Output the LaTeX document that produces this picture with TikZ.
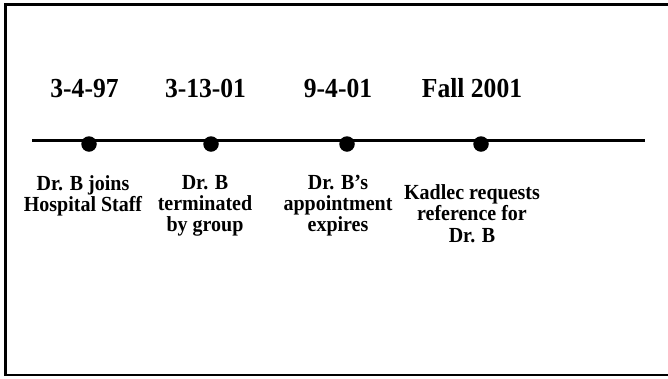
\documentclass[tikz,border=0pt]{standalone}
\usepackage{fontspec}
\setmainfont{Liberation Serif}
\newfontfamily\narrowserif[FakeStretch=0.93]{Liberation Serif}
\begin{document}
\begin{tikzpicture}[x=1pt,y=-1pt,
  frame/.style={line width=2.6pt},
  axis/.style={line width=3pt},
  dot/.style={circle,fill=black,inner sep=0pt,minimum size=15.5pt},
  date/.style={font=\narrowserif\bfseries\fontsize{27.5}{29}\selectfont,anchor=base,inner sep=0pt},
  event/.style={font=\narrowserif\bfseries\fontsize{21.5}{21.2}\selectfont,align=center,anchor=north,inner sep=0pt}]
  \useasboundingbox (0,0) rectangle (668,378);
  % outer frame (open on the right edge)
  \draw[frame] (672,4.5) -- (5.3,4.5) -- (5.3,375) -- (672,375);
  % time axis
  \coordinate (start) at (32,140);
  \coordinate (end) at (645,140);
  \draw[axis] (start) -- (end);
  % event markers
  \node[dot] (d1) at (89,144) {};
  \node[dot] (d2) at (211,144) {};
  \node[dot] (d3) at (347,144) {};
  \node[dot] (d4) at (481,144) {};
  % dates
  \node[date] (t1) at (84.5,97) {3-4-97};
  \node[date] (t2) at (205.5,97) {3-13-01};
  \node[date] (t3) at (338,97) {9-4-01};
  \node[date] (t4) at (472,97) {Fall 2001};
  % event descriptions
  \node[event] (e1) at (83,175) {Dr. B joins\\Hospital Staff};
  \node[event] (e2) at (205,175) {Dr. B\\terminated\\by group};
  \node[event] (e3) at (338,175) {Dr. B’s\\appointment\\expires};
  \node[event] (e4) at (472,184.5) {Kadlec requests\\reference for\\Dr. B};
\end{tikzpicture}
\end{document}
